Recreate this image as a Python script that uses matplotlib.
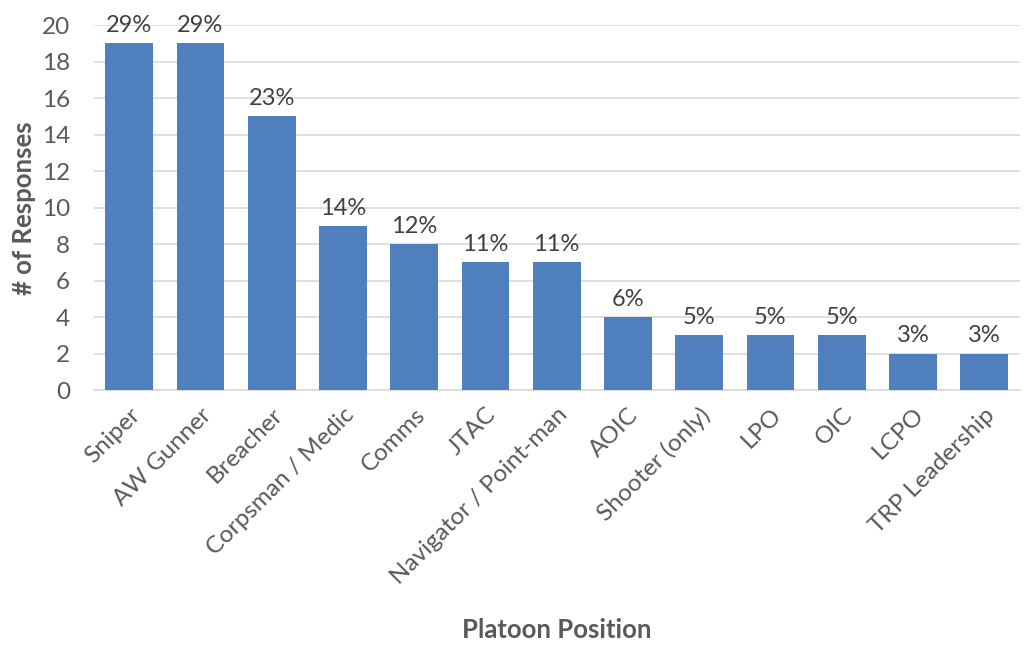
import matplotlib
matplotlib.use("Agg")
import matplotlib.pyplot as plt

positions = ["Sniper", "AW Gunner", "Breacher", "Corpsman / Medic", "Comms", "JTAC",
             "Navigator / Point-man", "AOIC", "Shooter (only)", "LPO", "OIC", "LCPO",
             "TRP Leadership"]
responses = [19, 19, 15, 9, 8, 7, 7, 4, 3, 3, 3, 2, 2]
pct_labels = ["29%", "29%", "23%", "14%", "12%", "11%", "11%", "6%", "5%", "5%", "5%", "3%", "3%"]
y_ticks = [0, 2, 4, 6, 8, 10, 12, 14, 16, 18, 20]

plt.rcParams["font.family"] = ["Lato", "DejaVu Sans"]
text_col = "#595959"

fig = plt.figure(figsize=(10.29, 6.46), dpi=100)
ax = fig.add_axes([0.091, 0.396, 0.9, 0.565])

x = range(len(positions))
bars = ax.bar(x, responses, width=0.67, color="#4F7FBD", zorder=3)

for b, lab in zip(bars, pct_labels):
    ax.text(b.get_x() + b.get_width() / 2, b.get_height() + 0.4, lab,
            ha="center", va="bottom", fontsize=17, color="#404040")

ax.set_xlim(-0.5, len(positions) - 0.5)
ax.set_ylim(0, 20)
ax.set_yticks(y_ticks)
ax.yaxis.grid(True, color="#D9D9D9", linewidth=1.2, zorder=0)
ax.set_xticks(list(x))
ax.set_xticklabels(positions, rotation=45, ha="right", rotation_mode="anchor")
ax.tick_params(axis="both", length=0, labelsize=17.5, colors=text_col)
ax.tick_params(axis="x", pad=10)
ax.tick_params(axis="y", pad=17)

for s in ["top", "right", "left"]:
    ax.spines[s].set_visible(False)
ax.spines["bottom"].set_color("#D9D9D9")
ax.spines["bottom"].set_linewidth(1.2)

ax.set_ylabel("# of Responses", fontsize=18.5, fontweight="bold", color=text_col, labelpad=4)
ax.set_xlabel("Platoon Position", fontsize=18.5, fontweight="bold", color=text_col)
ax.xaxis.set_label_coords(0.5, -0.625)

fig.savefig("out.png", dpi=100)
